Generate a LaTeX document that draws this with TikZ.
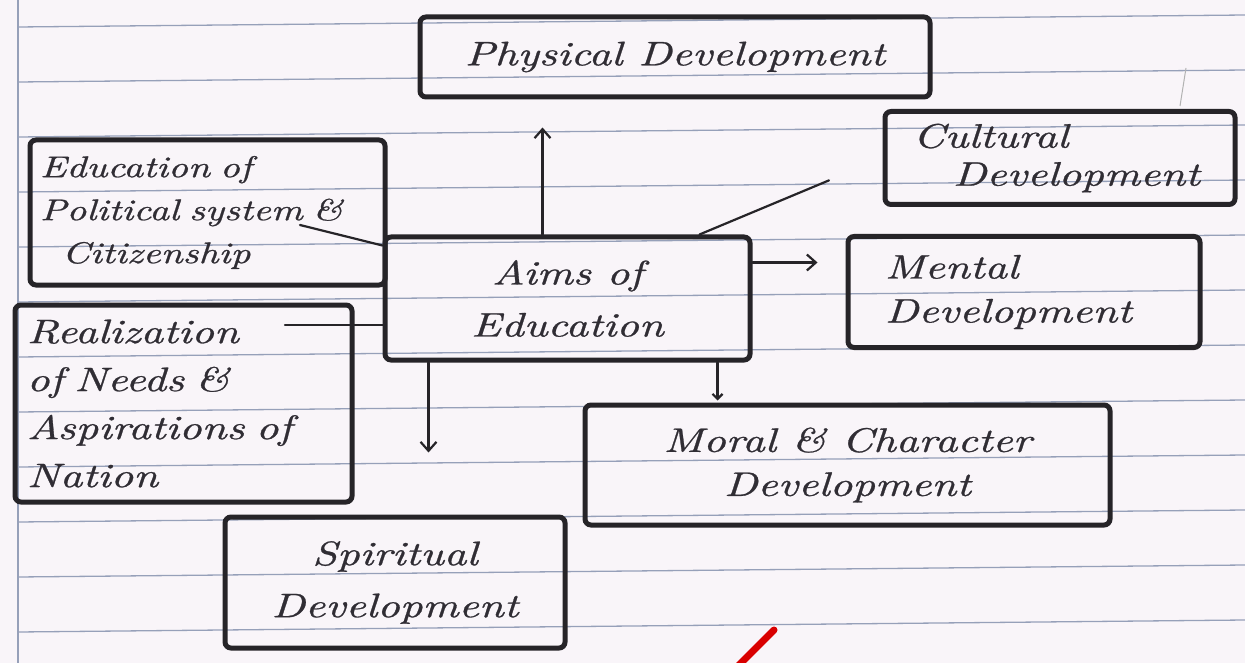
\documentclass[tikz,border=0pt]{standalone}
\usepackage{fontspec}
\usepackage{xcolor}
\usepackage{tikz}
\usetikzlibrary{calc,arrows.meta,positioning}
\newfontfamily\handfont{lmroman10-italic.otf}[FakeStretch=1.3,FakeBold=0.8]
\definecolor{paper}{RGB}{249,245,249}
\definecolor{rulecol}{RGB}{150,160,185}
\definecolor{ink}{RGB}{48,45,52}
\definecolor{pen}{RGB}{38,36,40}
\tikzset{
  devbox/.style    = {draw=pen, line width=5pt, rounded corners=6pt,
                      inner sep=0pt, text=ink},
  hand/.style      = {font=\handfont\fontsize{34}{#1}\selectfont},
  hand/.default    = 44,
  handsmall/.style = {font=\handfont\fontsize{30}{43}\selectfont},
  link/.style      = {draw=pen, line width=2.2pt, line cap=round},
  linkarr/.style   = {link, -{Straight Barb[length=9pt,width=16pt]}},
  paperrule/.style = {draw=rulecol, line width=1.3pt},
}

\begin{document}
\begin{tikzpicture}[x=1pt,y=-1pt]
  \useasboundingbox (0,0) rectangle (1245,663);
  \fill[paper] (0,0) rectangle (1245,663);
  \foreach \k in {0,...,11}
    \draw[paperrule] (18,27+55*\k) -- (1245,15+55*\k);
  \draw[paperrule] (18,0) -- (18,663);
  \draw[black!30, line width=1pt] (1186,68) -- (1180,106);

  \node[devbox, hand, minimum width=510pt, minimum height=80pt]
    (phys) at (675,57) {Physical Development};
  \node[devbox, hand=38, align=left, text width=314pt, inner xsep=18pt,
        minimum height=93pt]
    (cult) at (1060,158) {\hspace*{10pt}Cultural\\\hspace*{50pt}\mbox{Development}};
  \node[devbox, hand, align=left, text width=278pt, inner xsep=37pt,
        minimum height=111pt]
    (ment) at (1024,292) {Mental\\Development};
  \node[devbox, hand=52, align=center, minimum width=365pt, minimum height=123pt]
    (aims) at (567.5,298.5) {Aims of\\Education};
  \node[devbox, handsmall, align=left, text width=335pt, inner xsep=10pt,
        minimum height=145pt]
    (polit) at (207.5,212.5) {Education of\\Political system \&\\\hspace*{22pt}Citizenship};
  \node[devbox, hand=48, align=left, text width=313pt, inner xsep=12pt,
        minimum height=197pt]
    (real) at (183.5,403.5) {Realization\\of Needs \&\\Aspirations of\\Nation};
  \node[devbox, hand, align=center, minimum width=525pt, minimum height=120pt]
    (moral) at (847.5,465) {Moral \& Character\\Development};
  \node[devbox, hand=52, align=center, minimum width=340pt, minimum height=131pt]
    (spir) at (395,582.5) {Spiritual\\Development};

  \coordinate (politsys) at (300,225);
  \coordinate (realend) at (285,325);

  \draw[linkarr, shorten >=28pt] ([xshift=-25pt]aims.north) -- ([xshift=-25pt]aims.north |- phys.south);
  \draw[link, shorten >=58pt] ([xshift=132pt]aims.north) -- (cult.west);
  \draw[linkarr, shorten >=28pt] ([yshift=36pt]aims.east) -- ([yshift=36pt]aims.east -| ment.west);
  \draw[link] (politsys) -- ([yshift=53pt]aims.west);
  \draw[link] (realend) -- (realend -| aims.west);
  \draw[linkarr, shorten >=62pt] ([xshift=-139pt]aims.south) -- ([xshift=-139pt]aims.south |- spir.north);
  \draw[link, -{Straight Barb[length=5pt,width=10pt]}, shorten >=2pt]
    ([xshift=150pt]aims.south) -- ([xshift=150pt]aims.south |- moral.north);

  \draw[red!85!black, line width=7pt, line cap=round] (736,668) -- (774,630);
\end{tikzpicture}
\end{document}
